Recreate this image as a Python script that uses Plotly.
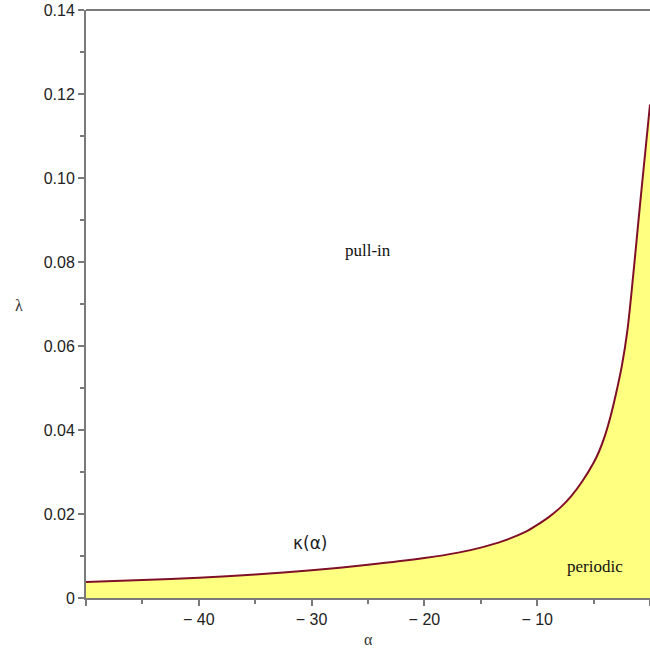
import plotly.graph_objects as go

alpha = [-50, -45, -40, -35, -30, -25, -20, -17, -15, -13, -11, -10, -9, -8, -7, -6, -5,
         -4.5, -4, -3.5, -3, -2.5, -2, -1.5, -1, -0.5, 0]
lam = [0.0038, 0.0043, 0.0048, 0.0056, 0.0066, 0.0079, 0.0095, 0.0108, 0.0120, 0.0136,
       0.0158, 0.0174, 0.0192, 0.0214, 0.0242, 0.0278, 0.0322, 0.0350, 0.0386, 0.0432,
       0.0488, 0.0552, 0.0638, 0.0765, 0.0905, 0.1040, 0.1175]

x_tickvals = [-50, -40, -30, -20, -10, 0]
x_ticktext = ["", "\u2212 40", "\u2212 30", "\u2212 20", "\u2212 10", "0"]
y_tickvals = [0, 0.02, 0.04, 0.06, 0.08, 0.10, 0.12, 0.14]
y_ticktext = ["0", "0.02", "0.04", "0.06", "0.08", "0.10", "0.12", "0.14"]

fig = go.Figure()
fig.add_trace(go.Scatter(
    x=alpha, y=lam, mode="lines", fill="tozeroy",
    fillcolor="#FFFF80", line=dict(color="#7F1028", width=2),
    line_shape="spline", line_smoothing=0.8, hoverinfo="skip", showlegend=False))

axis_col = "#7a7a7a"
tickfont = dict(family="Liberation Sans", size=16, color="#222222")
fig.update_xaxes(range=[-50, 0], tickvals=x_tickvals, ticktext=x_ticktext,
                 showgrid=False, zeroline=False, showline=True, linecolor=axis_col,
                 linewidth=2, ticks="outside", ticklen=6, tickwidth=2, tickcolor=axis_col,
                 tickfont=tickfont,
                 minor=dict(tickvals=[-45, -35, -25, -15, -5], ticks="outside",
                            ticklen=4, tickwidth=2, tickcolor=axis_col))
fig.update_yaxes(range=[0, 0.14], tickvals=y_tickvals, ticktext=y_ticktext,
                 showgrid=False, zeroline=False, showline=True, linecolor=axis_col,
                 linewidth=2, ticks="outside", ticklen=6, tickwidth=2, tickcolor=axis_col,
                 tickfont=tickfont,
                 minor=dict(tickvals=[0.01, 0.03, 0.05, 0.07, 0.09, 0.11, 0.13],
                            ticks="outside", ticklen=4, tickwidth=2, tickcolor=axis_col))

fig.add_shape(type="line", xref="paper", yref="paper", x0=0, x1=1, y0=1, y1=1,
              line=dict(color=axis_col, width=2))

serif = "Liberation Serif"
fig.add_annotation(x=-25, y=0.0828, text="pull-in", showarrow=False,
                   font=dict(family=serif, size=17, color="#111111"))
fig.add_annotation(x=-4.9, y=0.0075, text="periodic", showarrow=False,
                   font=dict(family=serif, size=17, color="#111111"))
fig.add_annotation(x=-30.1, y=0.0131, text="\u03ba(\u03b1)", showarrow=False,
                   font=dict(family="DejaVu Sans", size=17, color="#222222"))
fig.add_annotation(xref="paper", yref="paper", x=0.5, y=-0.088, text="\u03b1",
                   showarrow=False, font=dict(family=serif, size=16, color="#333333"))
fig.add_annotation(xref="paper", yref="paper", x=-0.13, y=0.498, text="\u03bb",
                   showarrow=False, font=dict(family=serif, size=16, color="#333333"))

fig.update_layout(width=650, height=655, margin=dict(l=86, r=0, t=10, b=57),
                  plot_bgcolor="white", paper_bgcolor="white")
fig.write_html("out.html")
